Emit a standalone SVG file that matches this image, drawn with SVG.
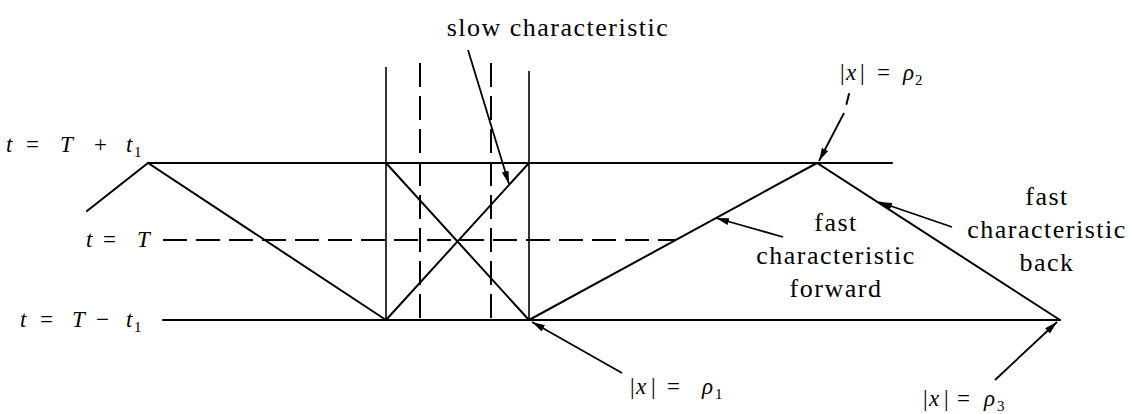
<svg xmlns="http://www.w3.org/2000/svg" width="1131" height="414" viewBox="0 0 1131 414">
<defs>
<style>
.ln{stroke:#000;stroke-width:2;fill:none;stroke-linecap:round}
.vl{stroke:#000;stroke-width:1.6;fill:none}
.dash{stroke:#000;stroke-width:2;fill:none;stroke-dasharray:24 9}
.arr{stroke:#000;stroke-width:1.8;fill:none;marker-end:url(#ah)}
.lbl{font-family:"Liberation Serif","Times New Roman",serif;font-size:26px;letter-spacing:1.5px;fill:#000;text-anchor:middle}
.m{font-family:"Liberation Serif","Times New Roman",serif;font-size:23px;fill:#000}
.i{font-style:italic}
.sub{font-size:15px}
</style>
<marker id="ah" markerUnits="userSpaceOnUse" markerWidth="14" markerHeight="8" refX="13" refY="3.5" orient="auto">
<path d="M0,0 L13,3.5 L0,7 z" fill="#000"/>
</marker>
</defs>
<rect width="1131" height="414" fill="#fff"/>

<g id="time-lines">
<line class="ln" x1="148" y1="163" x2="892" y2="163"/>
<line class="ln" x1="163" y1="320" x2="1060" y2="320"/>
<line class="dash" x1="163" y1="240" x2="676" y2="240"/>
</g>

<g id="vertical-lines">
<line class="vl" x1="386" y1="67" x2="386" y2="320"/>
<line class="vl" x1="529" y1="71" x2="529" y2="320"/>
<line class="dash" x1="420" y1="63" x2="420" y2="320"/>
<line class="dash" x1="491" y1="63" x2="491" y2="320"/>
</g>

<g id="characteristic-lines">
<polyline class="ln" points="87,211 148,163 386,320"/>
<line class="ln" x1="386" y1="163" x2="529" y2="320"/>
<line class="ln" x1="386" y1="320" x2="529" y2="163"/>
<polyline class="ln" points="529,320 817,163 1060,320"/>
</g>

<g id="connectors">
<line class="arr" x1="468" y1="50" x2="509" y2="184"/>
<line class="ln" x1="849" y1="94" x2="846.5" y2="104" stroke-width="1.6"/>
<line class="arr" x1="844" y1="113" x2="819" y2="161"/>
<line class="arr" x1="783" y1="237" x2="716" y2="218"/>
<line class="arr" x1="952" y1="227" x2="879" y2="202"/>
<line class="arr" x1="622" y1="373" x2="532" y2="322"/>
<line class="arr" x1="995" y1="380" x2="1057" y2="322"/>
</g>

<g id="label-slow">
<text class="lbl" x="558" y="36">slow characteristic</text>
</g>
<g id="label-fast-forward">
<text class="lbl" x="836" y="231">fast</text>
<text class="lbl" x="836" y="264">characteristic</text>
<text class="lbl" x="836" y="297">forward</text>
</g>
<g id="label-fast-back">
<text class="lbl" x="1047" y="205">fast</text>
<text class="lbl" x="1047" y="238">characteristic</text>
<text class="lbl" x="1047" y="271">back</text>
</g>

<g id="label-t-plus">
<text class="m" y="152"><tspan class="i" x="6">t</tspan><tspan x="26">=</tspan><tspan class="i" x="60">T</tspan><tspan x="94">+</tspan><tspan class="i" x="126">t</tspan><tspan class="sub" x="134" dy="5">1</tspan></text>
</g>
<g id="label-t">
<text class="m" y="247"><tspan class="i" x="86">t</tspan><tspan x="103">=</tspan><tspan class="i" x="137">T</tspan></text>
</g>
<g id="label-t-minus">
<text class="m" y="327"><tspan class="i" x="20">t</tspan><tspan x="40">=</tspan><tspan class="i" x="72">T</tspan><tspan x="96">−</tspan><tspan class="i" x="126">t</tspan><tspan class="sub" x="134" dy="5">1</tspan></text>
</g>

<g id="label-rho2">
<text class="m" y="80"><tspan x="840">|</tspan><tspan class="i" x="846">x</tspan><tspan x="860">|</tspan><tspan x="877">=</tspan><tspan class="i" x="903">ρ</tspan><tspan class="sub" x="915" dy="5">2</tspan></text>
</g>
<g id="label-rho1">
<text class="m" y="394"><tspan x="630">|</tspan><tspan class="i" x="636">x</tspan><tspan x="651">|</tspan><tspan x="667">=</tspan><tspan class="i" x="702">ρ</tspan><tspan class="sub" x="715" dy="5">1</tspan></text>
</g>
<g id="label-rho3">
<text class="m" y="406"><tspan x="923">|</tspan><tspan class="i" x="929">x</tspan><tspan x="944">|</tspan><tspan x="957">=</tspan><tspan class="i" x="984">ρ</tspan><tspan class="sub" x="997" dy="5">3</tspan></text>
</g>
</svg>
